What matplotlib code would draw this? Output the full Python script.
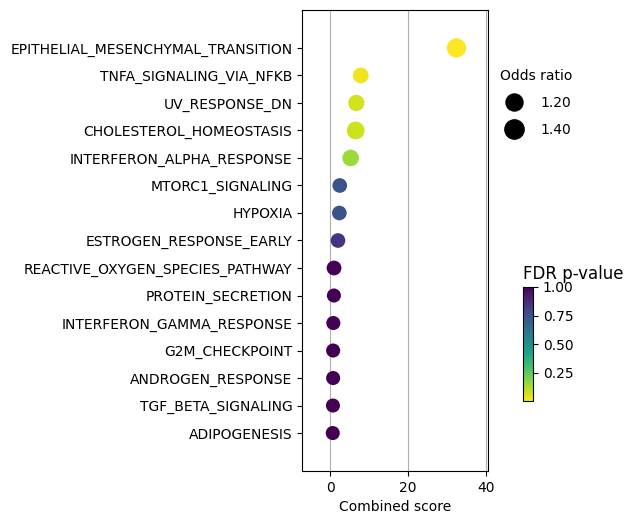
import matplotlib
matplotlib.use("Agg")
import matplotlib.pyplot as plt
import numpy as np
from matplotlib.lines import Line2D

# ── Data (top to bottom) ──────────────────────────────────────────────────────
terms = [
    "EPITHELIAL_MESENCHYMAL_TRANSITION",
    "TNFA_SIGNALING_VIA_NFKB",
    "UV_RESPONSE_DN",
    "CHOLESTEROL_HOMEOSTASIS",
    "INTERFERON_ALPHA_RESPONSE",
    "MTORC1_SIGNALING",
    "HYPOXIA",
    "ESTROGEN_RESPONSE_EARLY",
    "REACTIVE_OXYGEN_SPECIES_PATHWAY",
    "PROTEIN_SECRETION",
    "INTERFERON_GAMMA_RESPONSE",
    "G2M_CHECKPOINT",
    "ANDROGEN_RESPONSE",
    "TGF_BETA_SIGNALING",
    "ADIPOGENESIS",
]
combined_score = [32.5, 7.9, 6.75, 6.6, 5.3, 2.5, 2.4, 2.05, 1.03, 1.0, 0.85, 0.8, 0.8, 0.75, 0.7]
odds_ratio     = [1.40, 1.10, 1.14, 1.26, 1.17, 1.02, 1.02, 1.02, 1.03, 0.98, 0.98, 0.98, 0.98, 0.98, 0.98]
fdr            = [0.003, 0.03, 0.07, 0.08, 0.15, 0.75, 0.75, 0.85, 1.0, 1.0, 1.0, 1.0, 1.0, 1.0, 1.0]
legend_or      = [1.20, 1.40]


def or_to_size(v):
    return 215 * np.asarray(v) - 108


fig = plt.figure(figsize=(6.33, 5.25), dpi=100)
ax = fig.add_axes([302 / 633, 1 - 471 / 525, 186 / 633, 461 / 525])

n = len(terms)
ypos = np.arange(n)[::-1]
sc = ax.scatter(combined_score, ypos, s=or_to_size(odds_ratio), c=fdr,
                cmap="viridis_r", vmin=0.003, vmax=1.0, zorder=3,
                edgecolors="none")

ax.set_yticks(ypos)
ax.set_yticklabels(terms)
ax.set_ylim(-1.38, n - 1 + 1.38)
ax.set_xlim(-7.2, 40.6)
ax.set_xticks([0, 20, 40])
ax.set_xlabel("Combined score")
ax.grid(axis="x", color="#b0b0b0", lw=0.8, zorder=0)
ax.set_axisbelow(True)

# size legend
handles = [Line2D([], [], marker="o", ls="none", color="black",
                  markersize=np.sqrt(or_to_size(v))) for v in legend_or]
fig.legend(handles, [f"{v:.2f}" for v in legend_or], title="Odds ratio",
           frameon=False, loc="upper left", bbox_to_anchor=(487 / 633, 1 - 56 / 525),
           labelspacing=0.95, handletextpad=0.9)

# colour bar
cax = fig.add_axes([523 / 633, 1 - 401 / 525, 10 / 633, 114 / 525])
cb = fig.colorbar(sc, cax=cax)
cb.set_ticks([0.25, 0.5, 0.75, 1.0])
cax.set_title("FDR p-value", loc="left", fontsize=12)

fig.savefig("out.png", dpi=100)
